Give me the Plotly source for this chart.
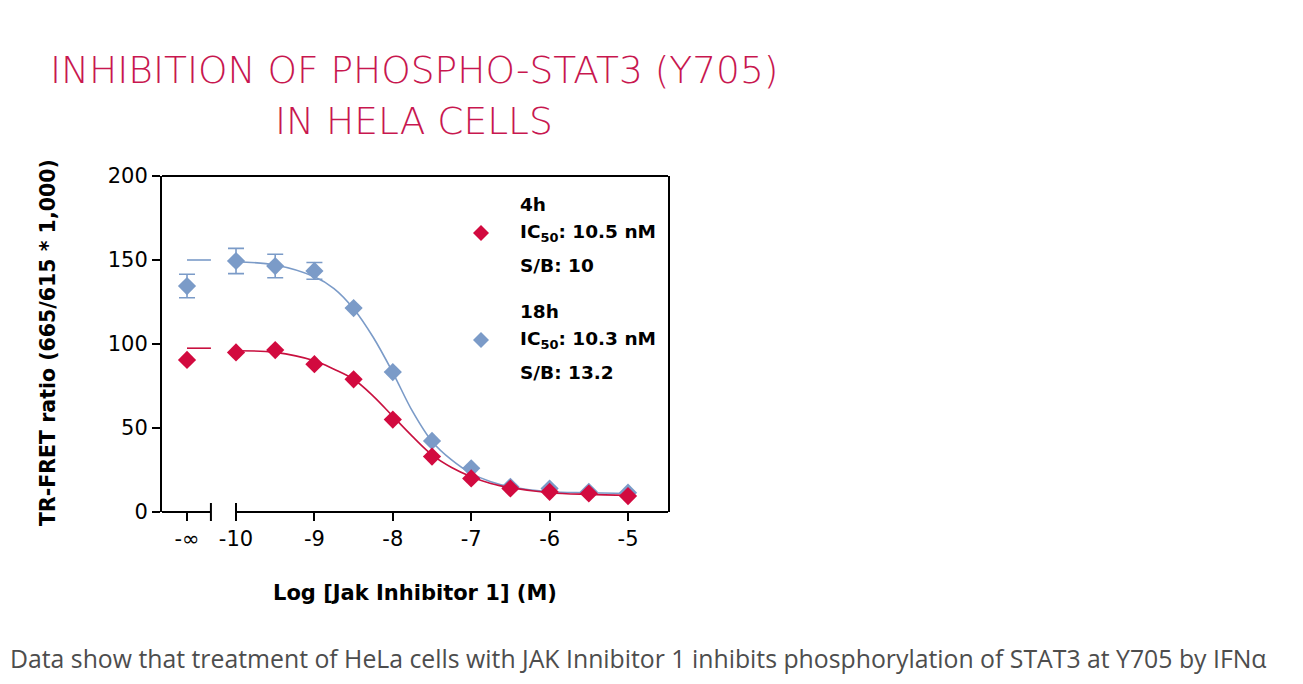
import plotly.graph_objects as go

# measured data, log10 molar concentration (-10.625 stands for -inf)
log_conc = [-10.625, -10, -9.5, -9, -8.5, -8, -7.5, -7, -6.5, -6, -5.5, -5]
ratio_4h = [90.5, 95, 96.4, 88, 79, 55, 33, 20, 14, 12, 11, 9.5]
ratio_18h = [134.5, 149.4, 146.4, 143.5, 121.4, 83.3, 42.3, 26, 15, 14, 12, 11.5]
err_18h = [7, 7.5, 7, 5, 0, 0, 0, 0, 0, 0, 0, 0]

# fitted curves
fit_x = [-10, -9.5, -9, -8.75, -8.5, -8.25, -8, -7.75, -7.5, -7.25, -7, -6.75, -6.5, -6, -5.5, -5]
fit_4h = [96, 95, 90, 85, 79, 69, 57, 45, 34, 26.5, 21, 17, 14.5, 11.5, 10.5, 10]
fit_18h = [149, 147, 140, 133, 121, 104, 83, 60, 42, 31, 23, 18, 15, 12, 11.5, 11]

# top plateau marks next to the -inf point
top_x = [-10.625, -10.32]
top_4h = [97.5, 97.5]
top_18h = [150, 150]

tick_vals = [-10.625, -10, -9, -8, -7, -6, -5]
tick_text = ['-∞', '-10', '-9', '-8', '-7', '-6', '-5']

RED = '#D20A3F'
BLUE = '#7B9BC8'
FONT = 'DejaVu Sans'

# page has an 8px body margin, so the figure starts at (8, 8) of the window
OFF = 8
W, H = 1303 - 2 * OFF, 684 - 2 * OFF
# plot area in window pixels
L, R, T, B = 162, 668, 176, 512
def px(x):
    return (x - L) / (R - L)
def py(y):
    return (B - y) / (B - T)

fig = go.Figure()

fig.add_trace(go.Scatter(x=fit_x, y=fit_18h, mode='lines', line=dict(color=BLUE, width=1.6, shape='spline'), showlegend=False))
fig.add_trace(go.Scatter(x=top_x, y=top_18h, mode='lines', line=dict(color=BLUE, width=1.6), showlegend=False))
fig.add_trace(go.Scatter(x=log_conc, y=ratio_18h, mode='markers',
                         marker=dict(symbol='diamond', size=14, color=BLUE),
                         error_y=dict(type='data', array=err_18h, color=BLUE, thickness=1.6, width=8),
                         showlegend=False))
fig.add_trace(go.Scatter(x=fit_x, y=fit_4h, mode='lines', line=dict(color='#C8103F', width=1.6, shape='spline'), showlegend=False))
fig.add_trace(go.Scatter(x=top_x, y=top_4h, mode='lines', line=dict(color='#C8103F', width=1.6), showlegend=False))
fig.add_trace(go.Scatter(x=log_conc, y=ratio_4h, mode='markers',
                         marker=dict(symbol='diamond', size=14, color=RED), showlegend=False))

xmin, xmax = -10.944, -4.49
shapes = [
    # top frame line
    dict(type='line', xref='paper', yref='paper', x0=0, x1=1, y0=1, y1=1, line=dict(color='black', width=2)),
    # broken bottom axis
    dict(type='line', xref='x', yref='paper', x0=xmin, x1=-10.32, y0=0, y1=0, line=dict(color='black', width=2)),
    dict(type='line', xref='x', yref='paper', x0=-10, x1=xmax, y0=0, y1=0, line=dict(color='black', width=2)),
    dict(type='line', xref='x', yref='paper', x0=-10.32, x1=-10.32, y0=py(503), y1=py(521), line=dict(color='black', width=2)),
    dict(type='line', xref='x', yref='paper', x0=-10, x1=-10, y0=py(503), y1=py(521), line=dict(color='black', width=2)),
]
# legend keys
for ypix, col in [(233, RED), (340, BLUE)]:
    shapes.append(dict(type='path', xref='paper', yref='paper', xsizemode='pixel', ysizemode='pixel',
                       xanchor=px(481), yanchor=py(ypix), path='M 0,8 L 8,0 L 0,-8 L -8,0 Z',
                       fillcolor=col, line=dict(width=0)))

def note(text, x, y, size=18.5, color='black', bold=False, anchor='left', angle=0, weight=None, family=FONT):
    return dict(text=('<b>%s</b>' % text) if bold else text, xref='paper', yref='paper',
                x=px(x), y=py(y), xanchor=anchor, yanchor='middle', showarrow=False, textangle=angle,
                font=dict(family=family, size=size, color=color, weight=weight))

annotations = [
    note('INHIBITION OF PHOSPHO-STAT3 (Y705)', 414, 70, size=37.5, color='#C8174F', anchor='center', weight=200),
    note('IN HELA CELLS', 414, 121, size=37.5, color='#C8174F', anchor='center', weight=200),
    note('TR-FRET ratio (665/615 * 1,000)', 48, 343, size=20.5, bold=True, anchor='center', angle=-90),
    note('Log [Jak Inhibitor 1] (M)', 415, 593, size=21, bold=True, anchor='center'),
    note('4h', 518, 204, bold=True),
    note('IC<sub>50</sub>: 10.5 nM', 518, 233, bold=True),
    note('S/B: 10', 518, 265, bold=True),
    note('18h', 518, 311, bold=True),
    note('IC<sub>50</sub>: 10.3 nM', 518, 340, bold=True),
    note('S/B: 13.2', 518, 372, bold=True),
    note('Data show that treatment of HeLa cells with JAK Innibitor 1 inhibits phosphorylation of STAT3 at Y705 by IFNα',
         8, 658, size=24.8, color='#4D4D4D', family='Open Sans'),
]

fig.update_layout(
    width=W, height=H,
    margin=dict(l=L - OFF, r=W - (R - OFF), t=T - OFF, b=H - (B - OFF)),
    paper_bgcolor='white', plot_bgcolor='white',
    font=dict(family=FONT, size=21, color='black'),
    xaxis=dict(range=[xmin, xmax], showgrid=False, zeroline=False, showline=False,
               tickmode='array', tickvals=tick_vals, ticktext=tick_text,
               ticks='outside', ticklen=8, tickwidth=2, tickcolor='black'),
    yaxis=dict(range=[0, 200], showgrid=False, zeroline=False, showline=True, linecolor='black',
               linewidth=2, mirror=True, tickvals=[0, 50, 100, 150, 200],
               ticks='outside', ticklen=8, tickwidth=2, tickcolor='black'),
    shapes=shapes,
    annotations=annotations,
)

fig.write_html('out.html')
